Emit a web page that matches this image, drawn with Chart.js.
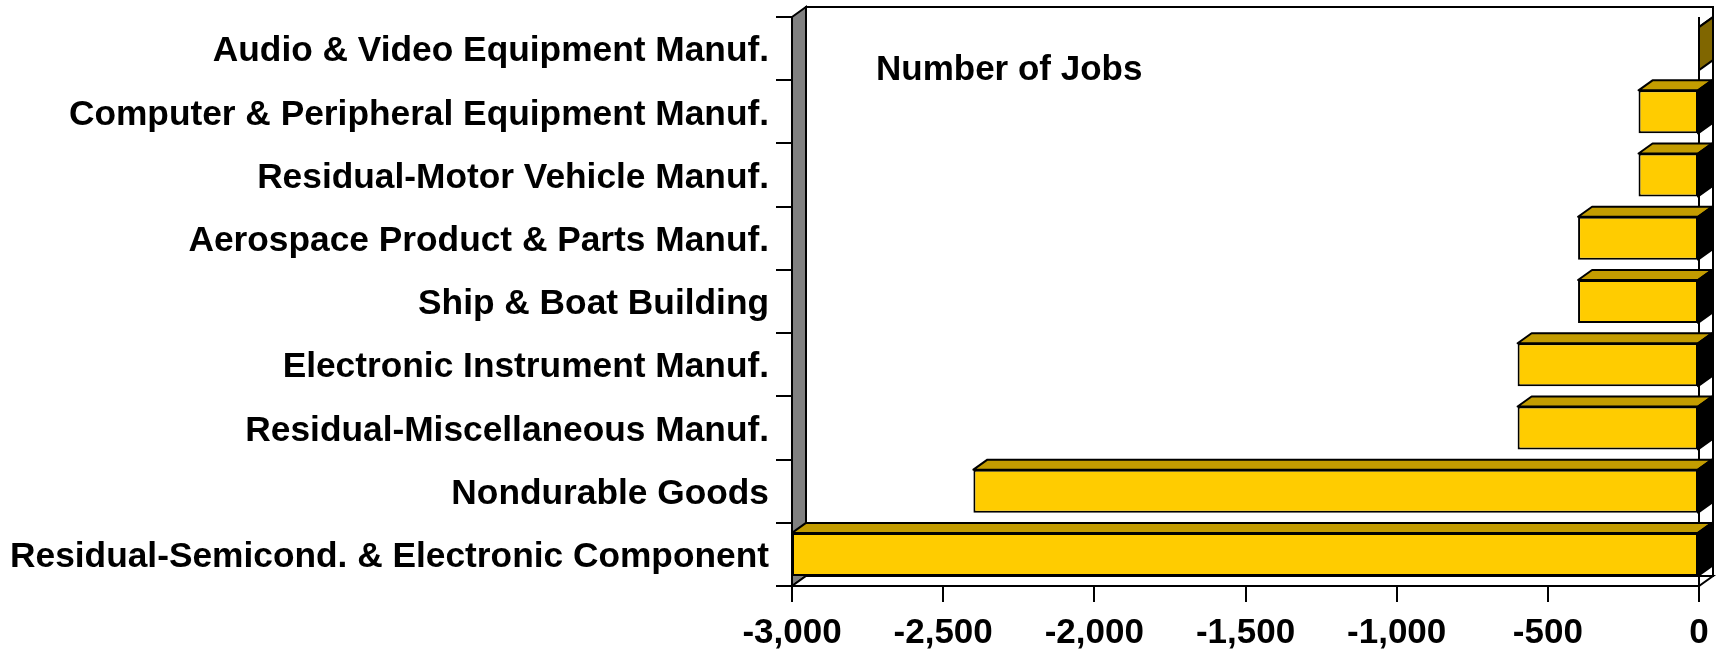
<!DOCTYPE html>
<html>
<head>
<meta charset="utf-8">
<script src="https://cdn.jsdelivr.net/npm/chart.js@4.4.1/dist/chart.umd.min.js"></script>
<style>
  html, body { margin: 0; padding: 0; background: #fff; }
  #wrap { width: 1729px; height: 663px; }
</style>
</head>
<body>
<div id="wrap"><canvas id="myChart" width="1729" height="663"></canvas></div>
<script>
const categories = [
  'Audio & Video Equipment Manuf.',
  'Computer & Peripheral Equipment Manuf.',
  'Residual-Motor Vehicle Manuf.',
  'Aerospace Product & Parts Manuf.',
  'Ship & Boat Building',
  'Electronic Instrument Manuf.',
  'Residual-Miscellaneous Manuf.',
  'Nondurable Goods',
  'Residual-Semicond. & Electronic Component'
]
const jobs = [0, -200, -200, -400, -400, -600, -600, -2400, -3000]
const xMin = -3000
const xMax = 0
const xStep = 500
const chartTitle = 'Number of Jobs'

const FONT = "'Liberation Sans', Arial, sans-serif"
const DX = 14, DY = 10

// back wall, side wall and floor of the 3d box
const walls = {
  id: 'walls',
  beforeDatasetsDraw(chart) {
    const ctx = chart.ctx, a = chart.chartArea
    ctx.save()
    ctx.lineWidth = 2
    ctx.strokeStyle = '#000'
    // back wall
    ctx.fillStyle = '#fff'
    ctx.beginPath()
    ctx.rect(a.left + DX, a.top - DY, a.right - a.left, a.bottom - a.top)
    ctx.fill(); ctx.stroke()
    // left wall
    ctx.fillStyle = '#808080'
    ctx.beginPath()
    ctx.moveTo(a.left, a.top)
    ctx.lineTo(a.left + DX, a.top - DY)
    ctx.lineTo(a.left + DX, a.bottom - DY)
    ctx.lineTo(a.left, a.bottom)
    ctx.closePath()
    ctx.fill(); ctx.stroke()
    // floor
    ctx.fillStyle = '#fff'
    ctx.beginPath()
    ctx.moveTo(a.left, a.bottom)
    ctx.lineTo(a.left + DX, a.bottom - DY)
    ctx.lineTo(a.right + DX, a.bottom - DY)
    ctx.lineTo(a.right, a.bottom)
    ctx.closePath()
    ctx.fill(); ctx.stroke()
    // zero line
    const x0 = chart.scales.x.getPixelForValue(0)
    ctx.beginPath()
    ctx.moveTo(x0, a.top)
    ctx.lineTo(x0, a.bottom)
    ctx.stroke()
    // title text
    ctx.fillStyle = '#000'
    ctx.font = 'bold 35px ' + FONT
    ctx.textBaseline = 'alphabetic'
    ctx.fillText(chartTitle, a.left + 84, 80)
    ctx.restore()
  },
  afterDatasetsDraw(chart) {
    const ctx = chart.ctx
    const meta = chart.getDatasetMeta(0)
    ctx.save()
    ctx.lineWidth = 2
    ctx.strokeStyle = '#000'
    ctx.lineJoin = 'round'
    meta.data.forEach((bar, i) => {
      const left = Math.min(bar.x, bar.base)
      const right = Math.max(bar.x, bar.base)
      const top = bar.y - bar.height / 2
      const bottom = bar.y + bar.height / 2
      // top face
      ctx.fillStyle = '#C39C00'
      ctx.beginPath()
      ctx.moveTo(left, top)
      ctx.lineTo(left + DX, top - DY)
      ctx.lineTo(right + DX, top - DY)
      ctx.lineTo(right, top)
      ctx.closePath()
      ctx.fill(); ctx.stroke()
      // side face
      ctx.fillStyle = jobs[i] === 0 ? '#806600' : '#000'
      ctx.beginPath()
      ctx.moveTo(right, top)
      ctx.lineTo(right + DX, top - DY)
      ctx.lineTo(right + DX, bottom - DY)
      ctx.lineTo(right, bottom)
      ctx.closePath()
      ctx.fill(); ctx.stroke()
    })
    ctx.restore()
  }
}

const ctx = document.getElementById('myChart').getContext('2d')

const myChart = new Chart(ctx, {
  type: 'bar',
  data: {
    labels: categories,
    datasets: [{
      label: chartTitle,
      data: jobs,
      backgroundColor: '#FFCC00',
      borderColor: '#000',
      borderWidth: 2,
      borderSkipped: false,
      categoryPercentage: 1,
      barPercentage: 0.68
    }]
  },
  options: {
    indexAxis: 'y',
    responsive: false,
    animation: false,
    layout: { padding: { top: 17, right: 30, left: 0, bottom: 0 } },
    plugins: {
      legend: { display: false },
      tooltip: { enabled: false }
    },
    scales: {
      x: {
        min: xMin,
        max: xMax,
        afterFit(scale) { scale.height = 77 },
        ticks: {
          stepSize: xStep,
          color: '#000',
          padding: 10,
          font: { family: FONT, size: 35, weight: 'bold' },
          callback: v => v.toLocaleString('en-US')
        },
        grid: { drawOnChartArea: false, color: '#000', lineWidth: 2, tickLength: 16 },
        border: { display: true, color: '#000', width: 2 }
      },
      y: {
        afterFit(scale) {
          scale.width = 792
          scale.paddingTop = 0
          scale.paddingBottom = 0
        },
        ticks: {
          color: '#000',
          padding: 7,
          labelOffset: 3,
          font: { family: FONT, size: 35.3, weight: 'bold' }
        },
        grid: { drawOnChartArea: false, color: '#000', lineWidth: 2, tickLength: 16 },
        border: { display: true, color: '#000', width: 2 }
      }
    }
  },
  plugins: [walls]
})
myChart.update()
</script>
</body>
</html>
